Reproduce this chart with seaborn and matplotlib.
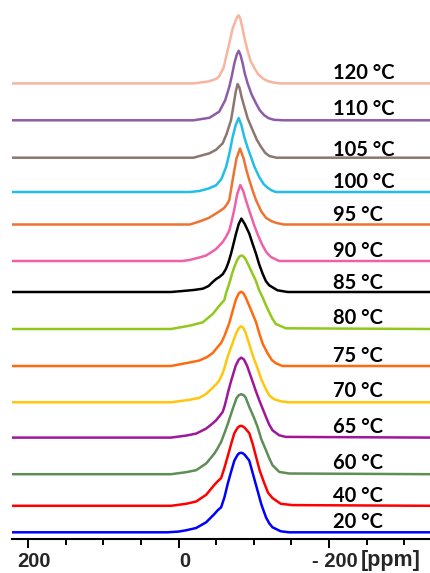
import matplotlib
matplotlib.use("Agg")
import matplotlib.pyplot as plt
import matplotlib.transforms as mtransforms
from matplotlib.ticker import MultipleLocator
import pandas as pd
import seaborn as sns

# ---------------- data ----------------
temps = ["120 °C", "110 °C", "105 °C", "100 °C", "95 °C", "90 °C", "85 °C",
         "80 °C", "75 °C", "70 °C", "65 °C", "60 °C", "40 °C", "20 °C"]

ppm_120 = [221, -20, -40, -50, -54, -60, -64, -68, -72, -76, -78, -80, -82, -85, -88, -92, -96, -101, -106, -112, -118, -125, -135, -335]
int_120 = [0, 0, 2, 4.5, 7, 16, 29, 42, 55, 63, 66.5, 68, 65, 55, 44, 32, 22, 15, 9, 5, 2.5, 1, 0, 0]

ppm_110 = [221, -20, -41, -54, -62, -67.5, -71, -74.2, -77.5, -80, -82.5, -85.2, -88, -91.8, -97, -102.9, -108, -113.9, -120, -127, -140, -335]
int_110 = [0, 0, 2.5, 8.6, 20, 33.6, 45, 57, 66, 69.5, 65, 57, 47, 37, 26, 17, 10, 5, 2, 0.5, 0, 0]

ppm_105 = [221, -20, -41.1, -50, -58.7, -64, -69.8, -73, -76, -78.5, -81, -84, -87.4, -92, -98.4, -104, -109.5, -115, -120.5, -130, -335]
int_105 = [0, 0, 4.4, 8, 14.4, 24, 37.7, 52, 66, 73.7, 70, 60, 51, 39, 27.7, 18, 11, 5, 1.7, 0, 0]

ppm_100 = [221, -15, -27.8, -40, -49.9, -57, -63.2, -68, -71.9, -76, -79.9, -83.5, -87.4, -91.5, -96.3, -101, -107.3, -113, -118.3, -124, -129.4, -335]
int_100 = [0, 0, 1, 3.5, 6.7, 13, 25, 40, 55, 67, 74, 67, 55, 45, 35, 25, 15, 8, 4.3, 1.5, 0, 0]

ppm_95 = [221, -15, -27.8, -40, -47.7, -55, -60.9, -65, -67.5, -71.9, -77, -81.7, -86.5, -90, -94, -98.5, -102.9, -110, -116.2, -123, -129.4, -140, -335]
int_95 = [0, 0, 3, 6.5, 10, 13.5, 16.7, 21, 24.5, 44.5, 66, 76, 66, 55, 44.5, 34, 24.5, 13, 6.7, 3.5, 1.7, 0, 0]

ppm_90 = [221, -5, -14.6, -27.8, -36.7, -43, -49.9, -55, -58.7, -63, -67.5, -71, -74.2, -78, -82.1, -86, -89.7, -95, -100.7, -106, -111.7, -117, -122.8, -133.8, -335]
int_90 = [0, 0, 1, 3.5, 5.5, 8.5, 12, 16, 19, 24, 30.5, 41, 52, 67, 76, 70, 60.5, 48, 35.5, 25, 15.5, 8.5, 4, 0, 0]

ppm_85 = [221, 10, -5.7, -20, -32.2, -40, -45.4, -50, -54.3, -59, -63.2, -66.5, -69.8, -73, -76.4, -80, -83.5, -88, -94, -98.5, -102.9, -107, -111.7, -116, -120.5, -131.5, -145, -335]
int_85 = [0, 0, 1, 2, 3.3, 6, 10, 13, 15, 18, 23.4, 30, 38.4, 48, 58.4, 68, 73.4, 68, 58.4, 48, 38.4, 28, 18.4, 11, 6.7, 1.7, 0, 0]

ppm_80 = [221, 10, -14.6, -32.2, -45.4, -54.3, -60.9, -63.2, -67.5, -71, -74.2, -78, -81, -83.8, -86.5, -89, -94, -98.5, -102.9, -107, -111.7, -116, -120.5, -125, -129.4, -142.6, -335]
int_80 = [0, 0, 3.3, 6.7, 15, 23.3, 29, 36, 45.7, 55, 62.3, 69, 72.5, 73.5, 72.5, 70, 62.3, 55, 48, 39, 31.7, 24, 16.7, 10, 5, 0.7, 0]

ppm_75 = [221, 10, -14.6, -27.8, -38, -45.4, -52, -56.6, -61, -64, -67.5, -71.9, -76, -80, -83, -86, -89, -96.3, -102.9, -107.3, -112, -118.3, -124, -129.4, -138.1, -335]
int_75 = [0, 0, 3.5, 5.5, 9, 13, 19, 23, 30, 36, 43, 55, 66, 72.5, 74.3, 73, 69, 56, 44, 32.7, 22, 12.7, 6, 2.7, 0, 0]

ppm_70 = [221, 10, -14.6, -27.8, -36, -43.3, -50, -54.3, -58, -60.9, -65, -69.8, -76, -80, -83, -86, -89, -94, -99, -105, -110, -116.2, -121, -127.2, -136, -145, -335]
int_70 = [0, 0, 2.5, 4.5, 8, 13, 18, 22, 28, 34, 45, 55, 68, 74, 76, 74.5, 70, 58, 46, 34, 23, 13, 6.5, 3, 1, 0, 0]

ppm_65 = [221, 10, -10, -23.4, -36.7, -45, -49.9, -55, -58.7, -61, -63.2, -66, -70, -76, -80, -83.4, -87, -91, -98, -103, -107.3, -112, -116.2, -120.5, -124.9, -133.8, -142.6, -335]
int_65 = [0, 0, 2, 4, 9, 14, 17.3, 22, 25.7, 31, 37.3, 46, 57, 72, 78, 80, 78, 72, 57, 46, 37.3, 28.5, 20.7, 13, 7.3, 2.3, 0.7, 0]

ppm_60 = [221, 10, -10, -23.4, -36.7, -47.7, -52, -56.6, -61, -65.3, -71.9, -77, -80, -83.4, -86.5, -89, -94, -100, -105, -110, -116.2, -120.5, -124.9, -133.8, -147, -335]
int_60 = [0, 0, 2, 4, 10.7, 20.7, 26, 32.3, 41, 50, 65, 76, 79, 80, 79, 77, 67.3, 57, 47.3, 35, 24, 16, 9, 2.3, 0.7, 0]

ppm_40 = [221, 10, -10, -23.4, -36.7, -47.7, -52, -56.6, -61, -65.3, -70, -74.2, -78.5, -81, -83, -85, -88, -94, -98.5, -102.9, -108, -113.9, -119, -124.9, -135.9, -151.4, -335]
int_40 = [0, 0, 2, 4.3, 11, 21, 24.5, 27.7, 38, 49.3, 62, 72.7, 78, 79.6, 80, 79.6, 78, 72.7, 62, 49.3, 35, 22.7, 13, 7.7, 2, 0.7, 0]

ppm_20 = [221, 15, 0, -10, -23.4, -36.7, -47.7, -52, -56.6, -61, -65.3, -70, -74.2, -78.5, -81, -83, -85, -88, -94, -99, -105, -110, -116.2, -120.5, -124.9, -135.9, -147, -335]
int_20 = [0, 0, 0.7, 2, 4.3, 10, 18.3, 22, 25, 35, 48.3, 61, 71.7, 77.5, 79.2, 79.5, 79.2, 77.5, 71.7, 58, 41.7, 28, 15, 9, 5, 1, 0, 0]

ppm_series = [ppm_120, ppm_110, ppm_105, ppm_100, ppm_95, ppm_90, ppm_85,
              ppm_80, ppm_75, ppm_70, ppm_65, ppm_60, ppm_40, ppm_20]
int_series = [int_120, int_110, int_105, int_100, int_95, int_90, int_85,
              int_80, int_75, int_70, int_65, int_60, int_40, int_20]

# stacking offsets of each trace and label heights (layout)
offsets = [455.6, 418.7, 381.3, 347, 314.5, 278, 247, 210, 173, 136.7, 101.4, 64.8, 33.2, 6.7]
label_y = [459.7, 424, 383, 351.3, 318.3, 282.3, 250, 215, 177.3, 141.7, 106.3, 70, 36.7, 10.7]

colors = ["#F7B5A0", "#8D5CA8", "#8A7770", "#22BDEA", "#EE7232", "#F060A8", "#000000",
          "#92C81C", "#FF6A10", "#FFC60C", "#A0169B", "#5E8E55", "#FF0000", "#0000FF"]

xticks = [200, 0, -200]
xticklabels = ["200", "0", "- 200"]

# ---------------- build table ----------------
rows = []
for t, p, v, off in zip(temps, ppm_series, int_series, offsets):
    for pp, vv in zip(p, v):
        rows.append({"temp": t, "ppm": pp, "y": vv + off})
df = pd.DataFrame(rows)

sns.set_style("white")
plt.rcParams["font.family"] = ["Liberation Sans", "DejaVu Sans"]

fig = plt.figure(figsize=(4.31, 5.73), dpi=100)
ax = fig.add_axes([12 / 431, 34 / 573, 419 / 431, 539 / 573])

sns.lineplot(data=df, x="ppm", y="y", hue="temp", hue_order=temps,
             palette=dict(zip(temps, colors)), estimator=None, sort=False,
             legend=False, linewidth=1.8, ax=ax)
for ln in ax.lines:
    ln.set_solid_joinstyle("round")

ax.set_xlim(221.3, -335.5)
ax.set_ylim(0, 539)
ax.set_xlabel("")
ax.set_ylabel("")
ax.set_yticks([])

for s in ["top", "left", "right"]:
    ax.spines[s].set_visible(False)
ax.spines["bottom"].set_linewidth(1.5)
ax.spines["bottom"].set_color("black")

ax.set_xticks(xticks)
ax.set_xticklabels(xticklabels, fontsize=14.5, fontweight="bold")
ax.xaxis.set_minor_locator(MultipleLocator(50))
ax.tick_params(axis="x", which="major", direction="out", length=6.5, width=1.4,
               color="black", pad=3.0, bottom=True)
ax.tick_params(axis="x", which="minor", direction="out", length=4.3, width=1.4,
               color="black", bottom=True)
shift = mtransforms.ScaledTranslation(6 / 100, 0, fig.dpi_scale_trans)
for lbl in ax.get_xticklabels():
    lbl.set_transform(lbl.get_transform() + shift)

fig.text(361 / 431, (573 - 566) / 573, "[ppm]", fontsize=15.5, fontweight="bold",
         ha="left", va="baseline")

for t, ly in zip(temps, label_y):
    ax.text(-204.7, ly, t, fontsize=14.5, fontweight="bold", family=["Lato", "DejaVu Sans"],
            ha="left", va="baseline", color="black")

fig.savefig("out.png", dpi=100)
